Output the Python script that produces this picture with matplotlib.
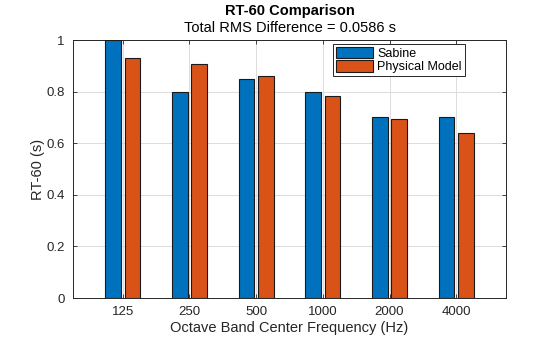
import numpy as np
import matplotlib.pyplot as plt

plt.rcParams['font.family'] = ['Liberation Sans', 'DejaVu Sans']

# Octave bands and RT-60 estimates (s)
bands = ['125', '250', '500', '1000', '2000', '4000']
sabine = [1.00, 0.80, 0.85, 0.80, 0.70, 0.70]
physical = [0.932, 0.908, 0.859, 0.782, 0.693, 0.638]

rms = np.sqrt(np.mean((np.array(sabine) - np.array(physical)) ** 2))

fig = plt.figure(figsize=(5.6, 3.37), dpi=100)
ax = fig.add_axes([0.130, 0.1157, 0.774, 0.7656])

x = np.arange(1, len(bands) + 1)
w = 0.235
ax.bar(x - 0.145, sabine, w, color='#0072BD', edgecolor='#1a1a1a', linewidth=0.8,
       label='Sabine', zorder=3)
ax.bar(x + 0.145, physical, w, color='#D95319', edgecolor='#1a1a1a', linewidth=0.8,
       label='Physical Model', zorder=3)

ax.set_xlim(0.25, 6.75)
ax.set_ylim(0, 1)
ax.set_xticks(x)
ax.set_xticklabels(bands)
ax.set_yticks([0, 0.2, 0.4, 0.6, 0.8, 1])
ax.set_yticklabels(['0', '0.2', '0.4', '0.6', '0.8', '1'])
ax.grid(True, color='#dcdcdc', linewidth=0.7, zorder=0)
ax.tick_params(direction='in', top=True, right=True, length=3, width=0.6,
               colors='#262626', labelsize=9.5, pad=6)
for s in ax.spines.values():
    s.set_color('#262626')
    s.set_linewidth(0.7)

ax.set_xlabel('Octave Band Center Frequency (Hz)', fontsize=10.5, color='#262626', labelpad=2)
ax.set_ylabel('RT-60 (s)', fontsize=10.5, color='#262626', labelpad=1)

# two-line title: bold heading, plain subtitle
cx = 0.130 + 0.774 / 2
fig.text(cx, 0.966, 'RT-60 Comparison', ha='center', va='center', fontsize=10.5,
         fontweight='bold', color='#000000')
fig.text(cx, 0.918, 'Total RMS Difference = %.4f s' % rms, ha='center', va='center',
         fontsize=10.5, color='#000000')

leg = ax.legend(loc='upper left', bbox_to_anchor=(0.60, 0.985), fontsize=9,
                frameon=True, fancybox=False, edgecolor='#262626', framealpha=1,
                handlelength=3.0, handleheight=1.0, handletextpad=0.3,
                borderpad=0.25, labelspacing=0.05, borderaxespad=0)
leg.get_frame().set_linewidth(0.7)

fig.savefig('out.png', dpi=100)
